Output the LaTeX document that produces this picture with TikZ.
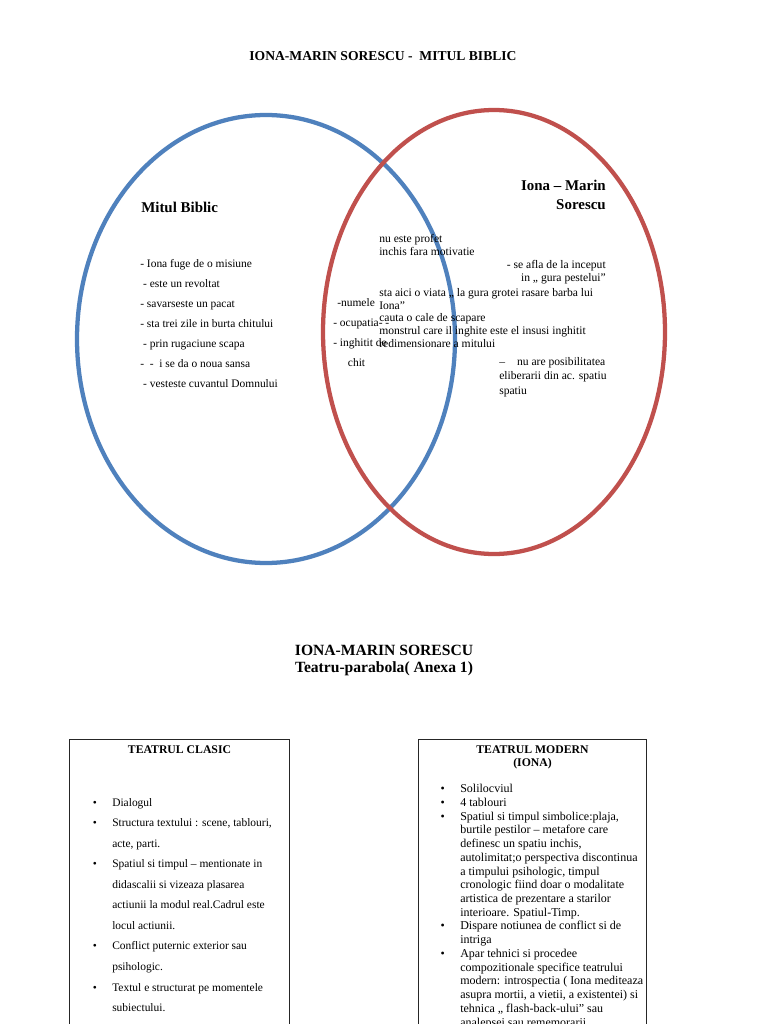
\documentclass[tikz,border=0pt]{standalone}
\usepackage{fontspec}
\setmainfont{Liberation Serif}
\usetikzlibrary{positioning}
\definecolor{VennBlue}{HTML}{4F81BD}
\definecolor{VennRed}{HTML}{C0504D}
\definecolor{Chenar}{HTML}{262626}
\newcommand{\punct}{\leavevmode\llap{\textbullet\hspace{11.5pt}}}

\begin{document}
\begin{tikzpicture}[
  x=0.75pt,y=-0.75pt,
  venn/.style={line width=3.2pt},
  titlu/.style={font=\bfseries\fontsize{10.2}{12}\selectfont,inner sep=0pt},
  eticheta/.style={font=\bfseries\fontsize{11.2}{14.3}\selectfont,inner sep=0pt},
  txt/.style={font=\fontsize{8.7}{9.6}\selectfont,inner sep=0pt,align=left,anchor=north west},
  lista/.style={txt,font=\fontsize{8.6}{15}\selectfont},
  caseta/.style={draw=Chenar,line width=0.75pt,anchor=north west,inner sep=0pt},
  antet/.style={font=\bfseries\fontsize{8.8}{9.8}\selectfont,inner sep=0pt,align=center,anchor=north}
]
\useasboundingbox (0,0) rectangle (768,1024);
\clip (0,0) rectangle (768,1024);
\fill[white] (0,0) rectangle (768,1024);
% diagrama Venn
\node[titlu] (titlu) at (383,56) {IONA-MARIN SORESCU -\ \ MITUL BIBLIC};
\draw[venn,VennBlue] (266,339) ellipse [x radius=189, y radius=224];
\draw[venn,VennRed] (494,332) ellipse [x radius=171, y radius=222];
\node[eticheta,anchor=west] (mitul) at (141,207) {Mitul Biblic};
\node[eticheta,anchor=north east,align=right] (iona) at (606,180) {Iona – Marin\\Sorescu};
\node[lista] (biblic) at (140,259) {- Iona fuge de o misiune\\
  \ - este un revoltat\\
  - savarseste un pacat\\
  - sta trei zile in burta chitului\\
  \ - prin rugaciune scapa\\
  -\ \ -\ \ i se da o noua sansa\\
  \ - vesteste cuvantul Domnului};
\node[lista] (comun) at (333,298) {\hspace{3pt}-numele\\
  - ocupatia- -\\
  - inghitit de\\
  \hspace{11pt}chit};
\node[txt] (profet) at (379,234) {nu este profet\\inchis fara motivatie};
\node[txt] (viata) at (379,288) {sta aici o viata ,, la gura grotei rasare barba lui\\
  Iona”\\
  cauta o cale de scapare\\
  monstrul care il inghite este el insusi inghitit\\
  redimensionare a mitului};
\node[txt,anchor=north east,align=right] (pestele) at (606,260) {- se afla de la inceput\\in ,, gura pestelui”};
\node[txt,font=\fontsize{8.7}{10.9}\selectfont] (eliberare) at (499,357) {–\hspace{9pt}nu are posibilitatea\\
  eliberarii din ac. spatiu\\
  spatiu};
% teatru clasic si modern
\node[titlu,align=center,font=\bfseries\fontsize{11.7}{12.75}\selectfont] (parabola) at (384,660) {IONA-MARIN SORESCU\\Teatru-parabola( Anexa 1)};
\node[caseta,minimum width=165pt,minimum height=226pt] (clasic) at (69,739) {};
\node[caseta,minimum width=171pt,minimum height=226pt] (modern) at (418,739) {};
\node[antet,below=4.5pt of clasic.north] (antetclasic) {TEATRUL CLASIC};
\node[antet,below=4.5pt of modern.north] (antetmodern) {TEATRUL MODERN\\(IONA)};
\node[txt,font=\fontsize{8.6}{15.4}\selectfont] (listaclasic) at (112,798) {\punct Dialogul\\
  \punct Structura textului : scene, tablouri,\\
  acte, parti.\\
  \punct Spatiul si timpul – mentionate in\\
  didascalii si vizeaza plasarea\\
  actiunii la modul real.Cadrul este\\
  locul actiunii.\\
  \punct Conflict puternic exterior sau\\
  psihologic.\\
  \punct Textul e structurat pe momentele\\
  subiectului.};
\node[txt,font=\fontsize{9}{10.3}\selectfont] (listamodern) at (460,784) {\punct Solilocviul\\
  \punct 4 tablouri\\
  \punct Spatiul si timpul simbolice:plaja,\\
  burtile pestilor – metafore care\\
  definesc un spatiu inchis,\\
  autolimitat;o perspectiva discontinua\\
  a timpului psihologic, timpul\\
  cronologic fiind doar o modalitate\\
  artistica de prezentare a starilor\\
  interioare. Spatiul-Timp.\\
  \punct Dispare notiunea de conflict si de\\
  intriga\\
  \punct Apar tehnici si procedee\\
  compozitionale specifice teatrului\\
  modern: introspectia ( Iona mediteaza\\
  asupra mortii, a vietii, a existentei) si\\
  tehnica ,, flash-back-ului” sau\\
  analepsei sau rememorarii};
\end{tikzpicture}
\end{document}
